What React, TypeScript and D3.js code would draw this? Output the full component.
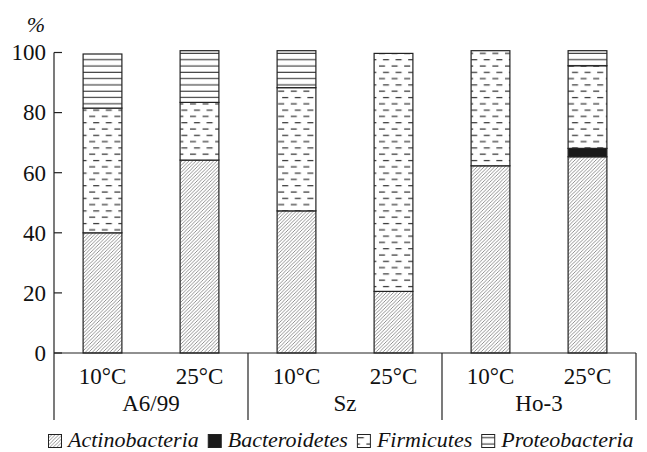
import React, { useEffect, useRef } from 'react';
import * as d3 from 'd3';

const groups = ['A6/99', 'Sz', 'Ho-3'];
const temps = ['10°C', '25°C'];
const taxa = ['Actinobacteria', 'Bacteroidetes', 'Firmicutes', 'Proteobacteria'];

// one value per bar: A6/99 10, A6/99 25, Sz 10, Sz 25, Ho-3 10, Ho-3 25
const actino = [40, 64.2, 47.3, 20.5, 62.3, 65.3];
const bactero = [0, 0, 0, 0, 0, 2.8];
const firmic = [41.5, 19.2, 41, 79.2, 38.3, 27.5];
const proteo = [18, 17.2, 12.3, 0, 0, 5];

const yTicks = [0, 20, 40, 60, 80, 100];

const FONT = 'Liberation Serif, DejaVu Serif, serif';

export default function App() {
    const svgRef = useRef<SVGSVGElement>(null);

    useEffect(() => {
        const svg = d3.select(svgRef.current);
        svg.selectAll('*').remove();

        const width = 647;
        const height = 452;
        const margin = { top: 52.5, left: 54, right: 11, bottom: 99 };
        const baseY = height - margin.bottom;
        const sepBottom = 420;

        svg.attr('width', width).attr('height', height)
            .attr('font-family', FONT);

        // patterns
        const defs = svg.append('defs');
        const hatch = defs.append('pattern')
            .attr('id', 'p-actino')
            .attr('patternUnits', 'userSpaceOnUse')
            .attr('width', 3.5).attr('height', 3.5);
        hatch.append('rect').attr('width', 3.5).attr('height', 3.5).attr('fill', '#fff');
        hatch.append('path')
            .attr('d', 'M-1,1 l2,-2 M0,3.5 l3.5,-3.5 M2.5,4.5 l2,-2')
            .attr('stroke', '#666').attr('stroke-width', 0.7);

        const dash = defs.append('pattern')
            .attr('id', 'p-firm')
            .attr('patternUnits', 'userSpaceOnUse')
            .attr('width', 12.6).attr('height', 12.6);
        dash.append('rect').attr('width', 12.6).attr('height', 12.6).attr('fill', '#fff');
        dash.append('path')
            .attr('d', 'M1,3 h6 M5,9.3 h6')
            .attr('stroke', '#333').attr('stroke-width', 1.3);

        const stripe = defs.append('pattern')
            .attr('id', 'p-proteo')
            .attr('patternUnits', 'userSpaceOnUse')
            .attr('width', 8).attr('height', 6.3);
        stripe.append('rect').attr('width', 8).attr('height', 6.3).attr('fill', '#fff');
        stripe.append('path')
            .attr('d', 'M0,3 h8')
            .attr('stroke', '#333').attr('stroke-width', 1.1);

        const fills = ['url(#p-actino)', '#1a1a1a', 'url(#p-firm)', 'url(#p-proteo)'];

        const bars = d3.range(actino.length).map((i) => ({
            key: `${groups[Math.floor(i / temps.length)]} ${temps[i % temps.length]}`,
            temp: temps[i % temps.length],
            values: [actino[i], bactero[i], firmic[i], proteo[i]],
        }));

        const x = d3.scaleBand<string>()
            .domain(bars.map((b) => b.key))
            .range([margin.left, width - margin.right])
            .paddingInner(0.6)
            .paddingOuter(0.3);

        const y = d3.scaleLinear()
            .domain([0, 100])
            .range([baseY, margin.top]);

        // stacked segments
        const segs = bars.flatMap((b) => {
            let acc = 0;
            return b.values.map((v, j) => {
                const s = { key: b.key, y0: acc, y1: acc + v, j };
                acc += v;
                return s;
            }).filter((s) => s.y1 > s.y0);
        });

        svg.append('g')
            .selectAll('rect')
            .data(segs)
            .join('rect')
            .attr('x', (d) => x(d.key)!)
            .attr('width', x.bandwidth())
            .attr('y', (d) => y(d.y1))
            .attr('height', (d) => y(d.y0) - y(d.y1))
            .attr('fill', (d) => fills[d.j])
            .attr('stroke', '#222')
            .attr('stroke-width', 1.2);

        // y axis, ticks pointing inward
        const yAxis = svg.append('g');
        yAxis.append('line')
            .attr('x1', margin.left).attr('x2', margin.left)
            .attr('y1', y(100)).attr('y2', sepBottom)
            .attr('stroke', '#222').attr('stroke-width', 1.2);
        yAxis.selectAll('line.tick')
            .data(yTicks)
            .join('line')
            .attr('class', 'tick')
            .attr('x1', margin.left).attr('x2', margin.left + 8)
            .attr('y1', (d) => y(d)).attr('y2', (d) => y(d))
            .attr('stroke', '#222').attr('stroke-width', 1.2);
        yAxis.selectAll('text')
            .data(yTicks)
            .join('text')
            .attr('x', margin.left - 8)
            .attr('y', (d) => y(d))
            .attr('dy', '0.34em')
            .attr('text-anchor', 'end')
            .attr('font-size', 23)
            .attr('fill', '#111')
            .text((d) => d);

        svg.append('text')
            .attr('x', 36).attr('y', 32)
            .attr('text-anchor', 'middle')
            .attr('font-size', 22)
            .attr('font-style', 'italic')
            .attr('fill', '#111')
            .text('%');

        // baseline and group separators
        const bottom = svg.append('g');
        bottom.append('line')
            .attr('x1', margin.left).attr('x2', width - margin.right)
            .attr('y1', baseY).attr('y2', baseY)
            .attr('stroke', '#222').attr('stroke-width', 1.2);

        const groupW = (width - margin.left - margin.right) / groups.length;
        bottom.selectAll('line.sep')
            .data(d3.range(1, groups.length + 1))
            .join('line')
            .attr('class', 'sep')
            .attr('x1', (d) => margin.left + d * groupW)
            .attr('x2', (d) => margin.left + d * groupW)
            .attr('y1', baseY).attr('y2', sepBottom)
            .attr('stroke', '#222').attr('stroke-width', 1.2);

        bottom.selectAll('text.temp')
            .data(bars)
            .join('text')
            .attr('class', 'temp')
            .attr('x', (d) => x(d.key)! + x.bandwidth() / 2)
            .attr('y', 384)
            .attr('text-anchor', 'middle')
            .attr('font-size', 23)
            .attr('fill', '#111')
            .text((d) => d.temp);

        bottom.selectAll('text.group')
            .data(groups)
            .join('text')
            .attr('class', 'group')
            .attr('x', (d, i) => margin.left + (i + 0.5) * groupW)
            .attr('y', 411)
            .attr('text-anchor', 'middle')
            .attr('font-size', 23)
            .attr('fill', '#111')
            .text((d) => d);

        // legend, laid out left to right by measured text width
        const legend = svg.append('g');
        let lx = 48;
        const box = 13;
        taxa.forEach((name, i) => {
            legend.append('rect')
                .attr('x', lx + 0.5).attr('y', 434.5)
                .attr('width', box).attr('height', box)
                .attr('fill', fills[i])
                .attr('stroke', '#222').attr('stroke-width', 1);
            const t = legend.append('text')
                .attr('x', lx + box + 7)
                .attr('y', 447)
                .attr('font-size', 22)
                .attr('font-style', 'italic')
                .attr('fill', '#111')
                .text(name);
            const w = (t.node() as SVGTextElement).getComputedTextLength();
            lx += box + 7 + w + 9;
        });
    }, []);

    return (
        <svg ref={svgRef} style={{ position: 'absolute', left: 0, top: 0, background: '#fff' }} />
    );
}
